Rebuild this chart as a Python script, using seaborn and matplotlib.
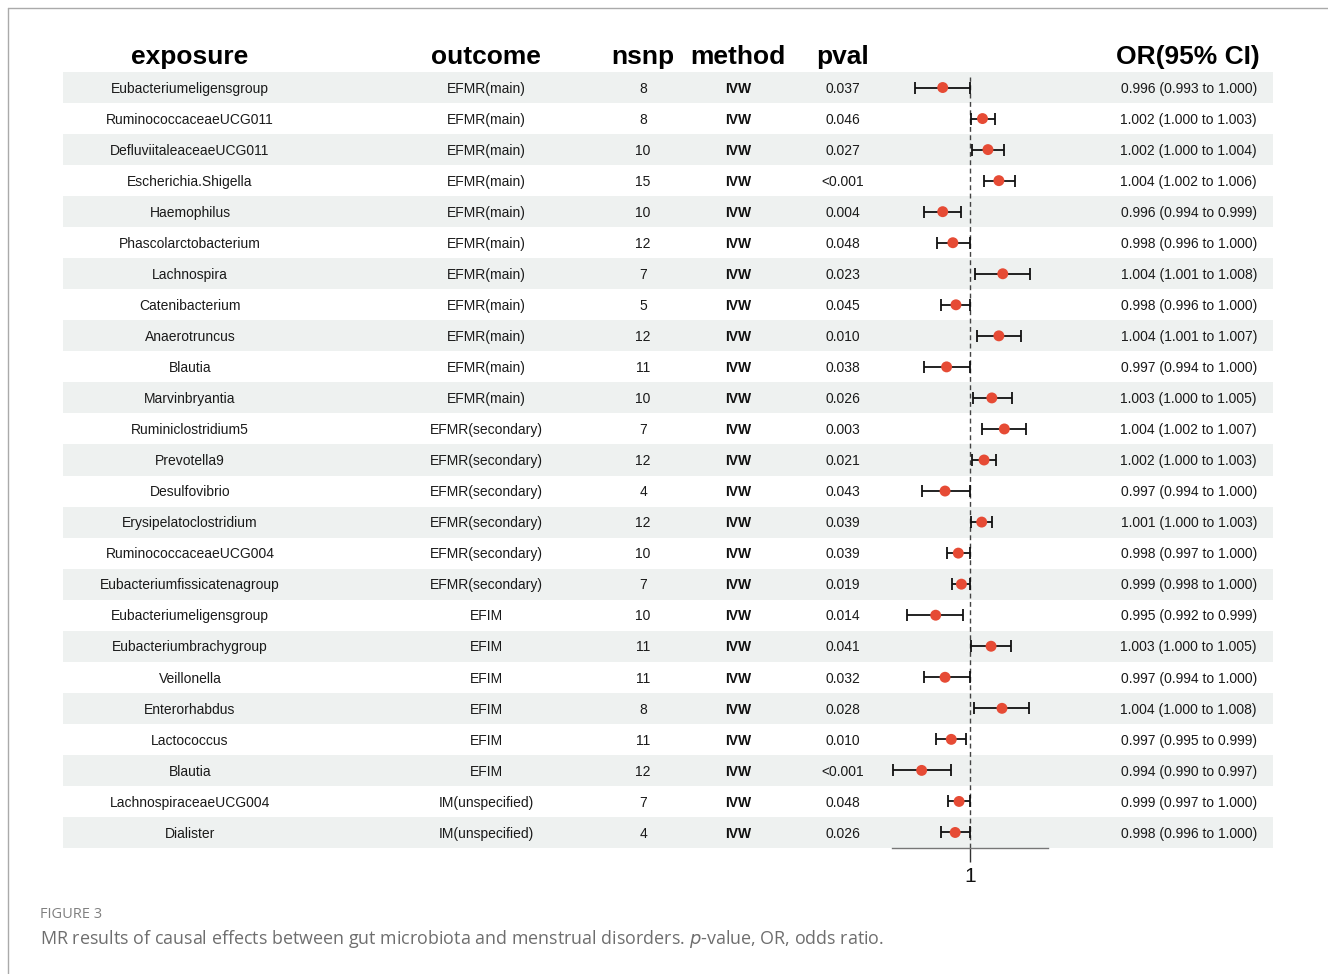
import matplotlib
matplotlib.use("Agg")
import matplotlib.pyplot as plt
import seaborn as sns
import pandas as pd
import numpy as np
from matplotlib.lines import Line2D
from matplotlib import font_manager

exposure = ["Eubacteriumeligensgroup", "RuminococcaceaeUCG011", "DefluviitaleaceaeUCG011",
            "Escherichia.Shigella", "Haemophilus", "Phascolarctobacterium", "Lachnospira",
            "Catenibacterium", "Anaerotruncus", "Blautia", "Marvinbryantia", "Ruminiclostridium5",
            "Prevotella9", "Desulfovibrio", "Erysipelatoclostridium", "RuminococcaceaeUCG004",
            "Eubacteriumfissicatenagroup", "Eubacteriumeligensgroup", "Eubacteriumbrachygroup",
            "Veillonella", "Enterorhabdus", "Lactococcus", "Blautia", "LachnospiraceaeUCG004",
            "Dialister"]
outcome = ["EFMR(main)"] * 11 + ["EFMR(secondary)"] * 6 + ["EFIM"] * 6 + ["IM(unspecified)"] * 2
nsnp = [8, 8, 10, 15, 10, 12, 7, 5, 12, 11, 10, 7, 12, 4, 12, 10, 7, 10, 11, 11, 8, 11, 12, 7, 4]
method = ["IVW"] * 25
pval = ["0.037", "0.046", "0.027", "<0.001", "0.004", "0.048", "0.023", "0.045", "0.010", "0.038",
        "0.026", "0.003", "0.021", "0.043", "0.039", "0.039", "0.019", "0.014", "0.041", "0.032",
        "0.028", "0.010", "<0.001", "0.048", "0.026"]
or_text = ["0.996 (0.993 to 1.000)", "1.002 (1.000 to 1.003)", "1.002 (1.000 to 1.004)",
           "1.004 (1.002 to 1.006)", "0.996 (0.994 to 0.999)", "0.998 (0.996 to 1.000)",
           "1.004 (1.001 to 1.008)", "0.998 (0.996 to 1.000)", "1.004 (1.001 to 1.007)",
           "0.997 (0.994 to 1.000)", "1.003 (1.000 to 1.005)", "1.004 (1.002 to 1.007)",
           "1.002 (1.000 to 1.003)", "0.997 (0.994 to 1.000)", "1.001 (1.000 to 1.003)",
           "0.998 (0.997 to 1.000)", "0.999 (0.998 to 1.000)", "0.995 (0.992 to 0.999)",
           "1.003 (1.000 to 1.005)", "0.997 (0.994 to 1.000)", "1.004 (1.000 to 1.008)",
           "0.997 (0.995 to 0.999)", "0.994 (0.990 to 0.997)", "0.999 (0.997 to 1.000)",
           "0.998 (0.996 to 1.000)"]
# point estimates and CI as drawn (unrounded estimates)
or_est = [0.9965, 1.0016, 1.0023, 1.0037, 0.9965, 0.9978, 1.0042, 0.9982, 1.0037, 0.9970,
          1.0028, 1.0044, 1.0018, 0.9968, 1.0015, 0.9985, 0.9989, 0.9956, 1.0027, 0.9968,
          1.0041, 0.9976, 0.9938, 0.9986, 0.9981]
ci_low = [0.9930, 1.0001, 1.0003, 1.0018, 0.9941, 0.9958, 1.0006, 0.9963, 1.0009, 0.9941,
          1.0004, 1.0016, 1.0003, 0.9938, 1.0001, 0.9971, 0.9977, 0.9919, 1.0001, 0.9941,
          1.0005, 0.9956, 0.9901, 0.9972, 0.9963]
ci_high = [1.0000, 1.0032, 1.0043, 1.0058, 0.9989, 1.0000, 1.0077, 1.0000, 1.0065, 1.0000,
           1.0054, 1.0072, 1.0033, 1.0000, 1.0028, 1.0000, 1.0000, 0.9991, 1.0053, 1.0000,
           1.0076, 0.9995, 0.9975, 1.0000, 1.0000]
headers = ["exposure", "outcome", "nsnp", "method", "pval", "OR(95% CI)"]

sns.set_theme(style="white")

available = {f.name for f in font_manager.fontManager.ttflist}
def pick(cands):
    for c in cands:
        if c in available:
            return c
    return "DejaVu Sans"

main_font = pick(["Liberation Sans", "Arimo", "Arial", "Helvetica", "Roboto", "DejaVu Sans"])
cap_font = pick(["Open Sans", "Lato", "Noto Sans", "DejaVu Sans"])
plt.rcParams['font.family'] = [main_font, 'DejaVu Sans']

W, H = 1328, 974
fig = plt.figure(figsize=(W / 100, H / 100), dpi=100)

n = len(exposure)
top_px, bot_px = 72, 848
left_px, right_px = 63, 1273

def fx(px):
    return px / W

def fy(py):
    return 1 - py / H

# table axes
ax = fig.add_axes([fx(left_px), fy(bot_px), fx(right_px - left_px), (bot_px - top_px) / H])
ax.set_xlim(left_px, right_px)
ax.set_ylim(n - 0.5, -0.5)
ax.axis("off")
rows = np.arange(n)
for i in rows:
    if i % 2 == 0:
        ax.axhspan(i - 0.5, i + 0.5, color="#EEF1F0", lw=0, zorder=0)

fs = 10
tc = "#1a1a1a"
col_x = {"exposure": 190, "outcome": 486, "nsnp": 643, "method": 738, "pval": 843}
for i in rows:
    yy = i + 0.04
    ax.text(col_x["exposure"], yy, exposure[i], ha="center", va="center", fontsize=fs, color=tc)
    ax.text(col_x["outcome"], yy, outcome[i], ha="center", va="center", fontsize=fs, color=tc)
    ax.text(col_x["nsnp"], yy, str(nsnp[i]), ha="center", va="center", fontsize=fs, color=tc)
    ax.text(col_x["method"], yy, method[i], ha="center", va="center", fontsize=fs,
            fontweight="bold", color="#111")
    ax.text(col_x["pval"], yy, pval[i], ha="center", va="center", fontsize=fs, color=tc)
    ax.text(1257, yy, or_text[i], ha="right", va="center", fontsize=fs, color=tc)

hy = -0.77
hfs = 19
for h in headers[:5]:
    ax.text(col_x[h], hy, h, ha="center", va="baseline", fontsize=hfs, fontweight="bold",
            color="black", clip_on=False)
ax.text(1260, hy, headers[5], ha="right", va="baseline", fontsize=hfs, fontweight="bold",
        color="black", clip_on=False)

# forest axes
axf = fig.add_axes([fx(892), fy(bot_px), fx(1048 - 892), (bot_px - top_px) / H])
axf.patch.set_alpha(0)
df = pd.DataFrame({"row": rows, "or": or_est, "lo": ci_low, "hi": ci_high})
axf.axvline(1.0, ymin=0, ymax=0.993, color="#444", lw=1.0, ls=(0, (3.5, 2.5)), zorder=1)
axf.errorbar(df["or"], df["row"], xerr=[df["or"] - df["lo"], df["hi"] - df["or"]],
             fmt="none", ecolor="#111", elinewidth=1.3, capsize=4, capthick=1.3, zorder=2)
sns.scatterplot(data=df, x="or", y="row", ax=axf, color="#E64B35", s=62, edgecolor="none",
                zorder=3, legend=False)
axf.set_xlim(0.990, 1.010)
axf.set_ylim(n - 0.5, -0.5)
axf.set_xticks([1.0])
axf.set_xticklabels(["1"])
axf.set_yticks([])
axf.set_xlabel("")
axf.set_ylabel("")
for s in ["top", "right", "left"]:
    axf.spines[s].set_visible(False)
axf.spines["bottom"].set_color("#777")
axf.spines["bottom"].set_linewidth(1.0)
axf.tick_params(axis="x", length=10, width=1.0, color="#333", labelsize=15, pad=3.5,
                labelcolor="#111", bottom=True)

# frame lines
fig.add_artist(Line2D([fx(8), 1], [fy(8), fy(8)], color="#aaa", lw=1.0))
fig.add_artist(Line2D([fx(8), fx(8)], [fy(8), 0], color="#aaa", lw=1.0))

# caption
fig.text(fx(40), fy(915), "FIGURE 3", fontsize=10.5, color="#808080", va="center", ha="left",
         family=[cap_font, "DejaVu Sans"])
fig.text(fx(40), fy(939),
         "MR results of causal effects between gut microbiota and menstrual disorders. $\\it{p}$-value, OR, odds ratio.",
         fontsize=12.9, color="#6e6e6e", va="center", ha="left", family=[cap_font, "DejaVu Sans"])

fig.savefig("out.png", dpi=100)
